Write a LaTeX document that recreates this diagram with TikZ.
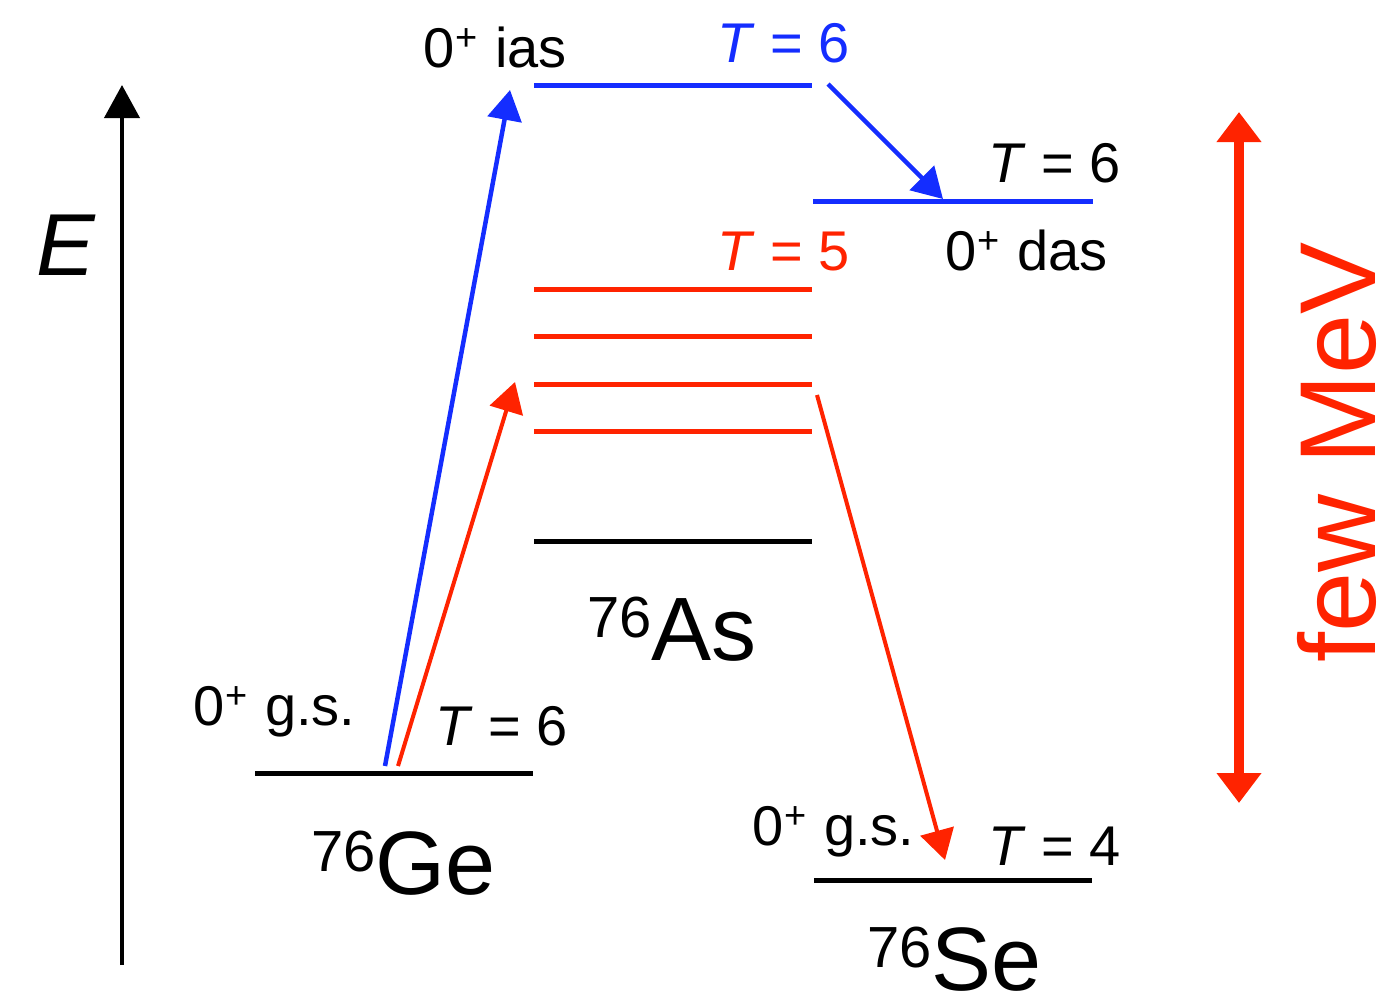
\documentclass[tikz,border=0pt]{standalone}
\usepackage{fontspec}
\setmainfont{Liberation Sans}
\usetikzlibrary{arrows.meta}
\definecolor{lblue}{RGB}{20,45,255}
\definecolor{lred}{RGB}{255,35,0}
\newcommand\plusup{\kern1pt\raisebox{17pt}{\fontsize{38}{38}\selectfont +}\kern2pt}
\newcommand\iso[2]{\raisebox{23pt}{\fontsize{58}{60}\selectfont #1}#2}
\begin{document}
\begin{tikzpicture}[x=1pt,y=-1pt,
  lvl/.style={line width=5pt},
  arr/.style={line width=4.5pt,-{Triangle[length=30pt,width=34pt]}},
  lab/.style={inner sep=0pt,anchor=base west,font=\fontsize{56}{60}\selectfont},
  big/.style={inner sep=0pt,anchor=base west,font=\fontsize{90}{96}\selectfont}]
\useasboundingbox (0,0) rectangle (1380,1007);
% level end points
\coordinate (geL) at (255,773); \coordinate (geR) at (533,773);
\coordinate (asL) at (534,541); \coordinate (asR) at (812,541);
\coordinate (r1L) at (534,289); \coordinate (r1R) at (812,289);
\coordinate (r2L) at (534,336); \coordinate (r2R) at (812,336);
\coordinate (r3L) at (534,384); \coordinate (r3R) at (812,384);
\coordinate (r4L) at (534,431); \coordinate (r4R) at (812,431);
\coordinate (iasL) at (534,85); \coordinate (iasR) at (812,85);
\coordinate (dasL) at (813,201); \coordinate (dasR) at (1093,201);
\coordinate (seL) at (814,880); \coordinate (seR) at (1092,880);
% arrow end points
\coordinate (eB) at (122,965); \coordinate (eT) at (122,85);
\coordinate (b1s) at (385,766); \coordinate (b1e) at (510,90);
\coordinate (r1s) at (398,766); \coordinate (r1e) at (515,382);
\coordinate (b2s) at (828,84); \coordinate (b2e) at (943,199);
\coordinate (r2s) at (817,395); \coordinate (r2e) at (945,860);
\coordinate (mT) at (1239,112); \coordinate (mB) at (1239,803);
% levels
\draw[lvl] (geL) -- (geR);
\draw[lvl] (asL) -- (asR);
\draw[lvl,lred] (r1L) -- (r1R);
\draw[lvl,lred] (r2L) -- (r2R);
\draw[lvl,lred] (r3L) -- (r3R);
\draw[lvl,lred] (r4L) -- (r4R);
\draw[lvl,lblue] (iasL) -- (iasR);
\draw[lvl,lblue] (dasL) -- (dasR);
\draw[lvl] (seL) -- (seR);
% arrows
\draw[line width=4pt,-{Triangle[length=33pt,width=35pt]}] (eB) -- (eT);
\draw[arr,lblue] (b1s) -- (b1e);
\draw[arr,lred,line width=4pt] (r1s) -- (r1e);
\draw[arr,lblue] (b2s) -- (b2e);
\draw[arr,lred,line width=4pt] (r2s) -- (r2e);
\draw[lred,line width=10pt,{Triangle[length=30pt,width=43pt]}-{Triangle[length=30pt,width=43pt]}] (mT) -- (mB);
% labels
\node[inner sep=0pt,anchor=base west,font=\fontsize{88}{90}\selectfont\itshape] (E) at (36,275) {E};
\node[lab] (ias) at (423,67) {0\plusup{} ias};
\node[lab,text=lblue] (t6a) at (717,62) {\textit{T} = 6};
\node[lab] (t6b) at (988,182) {\textit{T} = 6};
\node[lab,text=lred] (t5) at (717,270) {\textit{T} = 5};
\node[lab] (das) at (945,270) {0\plusup{} das};
\node[lab] (gsge) at (193,725) {0\plusup{} g.s.};
\node[lab] (t6c) at (435,745) {\textit{T} = 6};
\node[lab] (gsse) at (752,845) {0\plusup{} g.s.};
\node[lab] (t4) at (988,865) {\textit{T} = 4};
\node[big] (as) at (587,660) {\iso{76}{As}};
\node[big] (ge) at (311,894) {\iso{76}{Ge}};
\node[big] (se) at (867,990) {\iso{76}{Se}};
\node[inner sep=0pt,anchor=base,rotate=90,text=lred,font=\fontsize{108}{110}\selectfont] (mev) at (1375,452) {few MeV};
\end{tikzpicture}
\end{document}
